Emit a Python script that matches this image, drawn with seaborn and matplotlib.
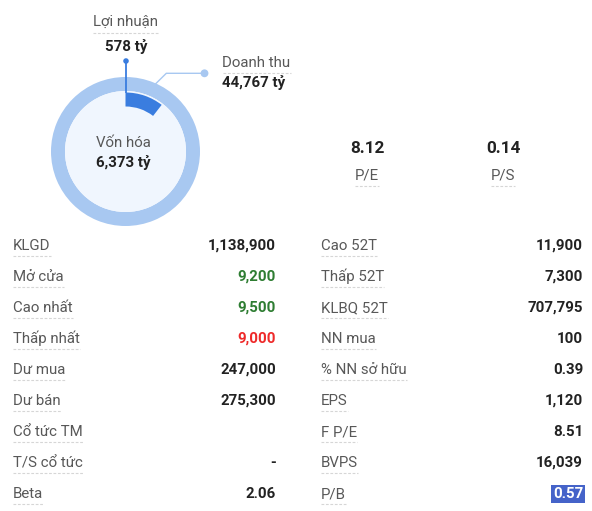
import matplotlib
matplotlib.use("Agg")
import matplotlib.pyplot as plt
import seaborn as sns

# ---- donnees ----
von_hoa = "6,373 tỷ"
loi_nhuan = "578 tỷ"
doanh_thu = "44,767 tỷ"
profit_arc_share = 0.105   # part de l'arc bleu fonce

pe_value = "8.12"
ps_value = "0.14"

left_labels = ["KLGD", "Mở cửa", "Cao nhất", "Thấp nhất", "Dư mua", "Dư bán",
               "Cổ tức TM", "T/S cổ tức", "Beta"]
left_values = ["1,138,900", "9,200", "9,500", "9,000", "247,000", "275,300",
               "", "-", "2.06"]
right_labels = ["Cao 52T", "Thấp 52T", "KLBQ 52T", "NN mua", "% NN sở hữu", "EPS",
                "F P/E", "BVPS", "P/B"]
right_values = ["11,900", "7,300", "707,795", "100", "0.39", "1,120",
                "8.51", "16,039", "0.57"]

# couleurs
LABEL_C = "#585858"
VALUE_C = "#222222"
GREEN = "#2e7d32"
RED = "#ee2a2a"
RING = "#a8c8f1"
INNER = "#f0f6fe"
DARK = "#3a7ddf"
DASH = "#d6d6d6"
left_colors = {1: GREEN, 2: GREEN, 3: RED}

sns.set_theme(style="white")
plt.rcParams['font.family'] = ['Roboto', 'DejaVu Sans']

W, H = 592, 511
fig = plt.figure(figsize=(W / 100, H / 100), dpi=100)
ax = fig.add_axes([0, 0, 1, 1])


def py(y):
    # coordonnees pixel depuis le haut
    return H - y


# ---- donut ----
cx, cy = 125.5, py(151.5)
ax.pie([1], radius=74.5, center=(cx, cy), colors=[RING],
       wedgeprops=dict(width=14, linewidth=0))
ax.pie([1], radius=60.5, center=(cx, cy), colors=[INNER],
       wedgeprops=dict(linewidth=0))
ax.pie([profit_arc_share, 1 - profit_arc_share], radius=59, center=(cx, cy),
       startangle=90, counterclock=False, colors=[DARK, "none"],
       wedgeprops=dict(width=14, linewidth=0))

ax.set_xlim(0, W)
ax.set_ylim(0, H)
ax.set_aspect('auto')
ax.axis('off')

# traits de rappel
ax.plot([126, 126], [py(61), py(93)], color=DARK, lw=1.3, solid_capstyle='butt')
ax.plot([152.7, 166.3, 204], [py(86.7), py(73.3), py(73.3)], color=RING, lw=1.0)
sns.scatterplot(x=[126], y=[py(61)], ax=ax, color=DARK, s=16, edgecolor='none')
sns.scatterplot(x=[204.5], y=[py(73.3)], ax=ax, color=RING, s=32, edgecolor='none')

underlined = []

t = ax.text(125.5, py(26), "Lợi nhuận", ha='center', va='baseline', fontsize=10.8, color=LABEL_C)
underlined.append((t, 32.5))
ax.text(126, py(51), loi_nhuan, ha='center', va='baseline', fontsize=10.8,
        fontweight='bold', color=VALUE_C)
t = ax.text(222.5, py(66.7), "Doanh thu", ha='left', va='baseline', fontsize=10.8, color=LABEL_C)
underlined.append((t, 72.5))
ax.text(222.5, py(87.3), doanh_thu, ha='left', va='baseline', fontsize=10.8,
        fontweight='bold', color=VALUE_C)

ax.text(123, py(146.7), "Vốn hóa", ha='center', va='baseline', fontsize=10.8, color=LABEL_C)
ax.text(123, py(166.7), von_hoa, ha='center', va='baseline', fontsize=10.8,
        fontweight='bold', color=VALUE_C)

# P/E et P/S
for x, val, lab in [(367, pe_value, "P/E"), (503, ps_value, "P/S")]:
    ax.text(x, py(152.7), val, ha='center', va='baseline', fontsize=12.3,
            fontweight='bold', color=VALUE_C)
    t = ax.text(x, py(179.3), lab, ha='center', va='baseline', fontsize=10.8, color=LABEL_C)
    underlined.append((t, 185.5))

# ---- tableau ----
row0, step = 250, 31
for i, (lab, val) in enumerate(zip(left_labels, left_values)):
    yb = row0 + i * step
    t = ax.text(13, py(yb), lab, ha='left', va='baseline', fontsize=10.8, color=LABEL_C)
    underlined.append((t, yb + 6))
    ax.text(276, py(yb), val, ha='right', va='baseline', fontsize=10.8,
            fontweight='bold', color=left_colors.get(i, VALUE_C))

for i, (lab, val) in enumerate(zip(right_labels, right_values)):
    yb = row0 + i * step
    t = ax.text(321, py(yb), lab, ha='left', va='baseline', fontsize=10.8, color=LABEL_C)
    underlined.append((t, yb + 6))
    if lab == "P/B":
        ax.text(583, py(yb), val, ha='right', va='baseline', fontsize=10.8,
                fontweight='bold', color='white',
                bbox=dict(boxstyle='square,pad=0.12', fc='#4563c9', ec='none'))
    else:
        ax.text(583, py(yb), val, ha='right', va='baseline', fontsize=10.8,
                fontweight='bold', color=VALUE_C)

# soulignement en pointilles sous les libelles
fig.canvas.draw()
renderer = fig.canvas.get_renderer()
for t, yl in underlined:
    bb = t.get_window_extent(renderer)
    ax.plot([bb.x0, bb.x1], [py(yl), py(yl)], color=DASH, lw=0.8,
            ls=(0, (2.5, 1.5)))

fig.savefig("out.png", dpi=100)
